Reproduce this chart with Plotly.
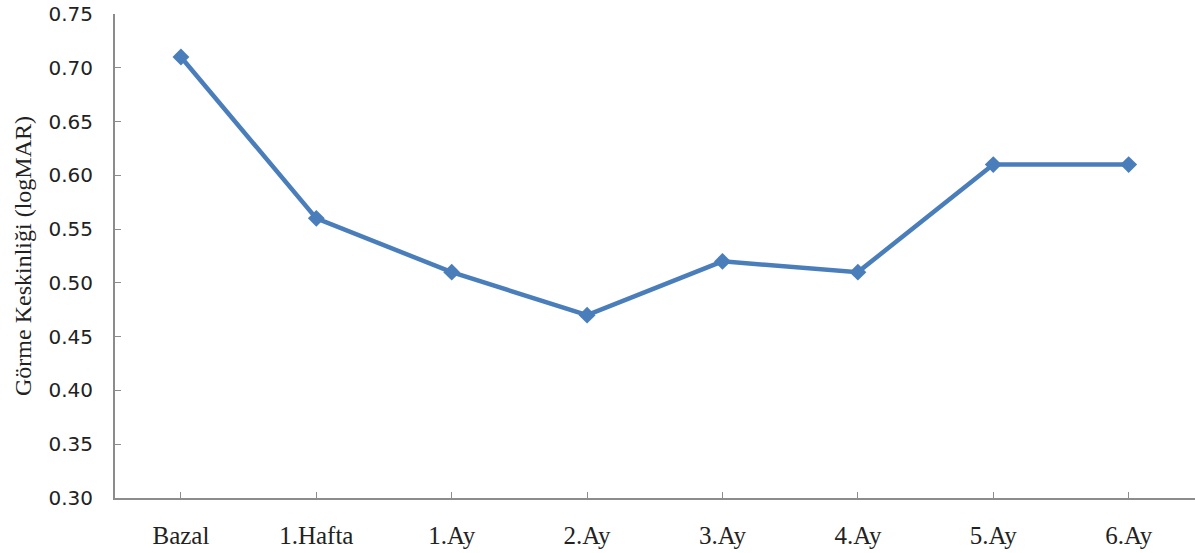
import plotly.graph_objects as go

categories = ["Bazal", "1.Hafta", "1.Ay", "2.Ay", "3.Ay", "4.Ay", "5.Ay", "6.Ay"]
values = [0.71, 0.56, 0.51, 0.47, 0.52, 0.51, 0.61, 0.61]
y_ticks = [0.30, 0.35, 0.40, 0.45, 0.50, 0.55, 0.60, 0.65, 0.70, 0.75]

fig = go.Figure()
fig.add_trace(go.Scatter(
    x=list(range(len(categories))), y=values, mode="lines+markers",
    line=dict(color="#4a7ebb", width=4.5),
    marker=dict(symbol="diamond", size=13, color="#4a7ebb"),
    showlegend=False,
))

fig.update_layout(
    width=1195, height=553,
    margin=dict(l=115, r=0, t=14, b=55),
    paper_bgcolor="white", plot_bgcolor="white",
    xaxis=dict(
        range=[-0.487, 7.49], tickmode="array",
        tickvals=list(range(len(categories))),
        ticktext=categories,
        showgrid=False, zeroline=False,
        showline=True, linecolor="#8c8c8c", linewidth=2,
        ticks="inside", ticklen=6, tickcolor="#8c8c8c", tickwidth=1,
        ticklabelstandoff=14,
        tickfont=dict(family="Liberation Serif", size=25, color="#222222"),
    ),
    yaxis=dict(
        range=[0.30, 0.75], tickmode="array", tickvals=y_ticks,
        ticktext=[f"{v:.2f}" for v in y_ticks],
        showgrid=False, zeroline=False,
        showline=True, linecolor="#8c8c8c", linewidth=2,
        ticks="inside", ticklen=6, tickcolor="#8c8c8c", tickwidth=1,
        ticklabelstandoff=16,
        tickfont=dict(family="DejaVu Sans", size=20, color="#222222"),
        title=dict(text="Görme Keskinliği (logMAR)", standoff=10,
                   font=dict(family="Liberation Serif", size=24, color="#222222")),
    ),
)

fig.write_html("out.html")
